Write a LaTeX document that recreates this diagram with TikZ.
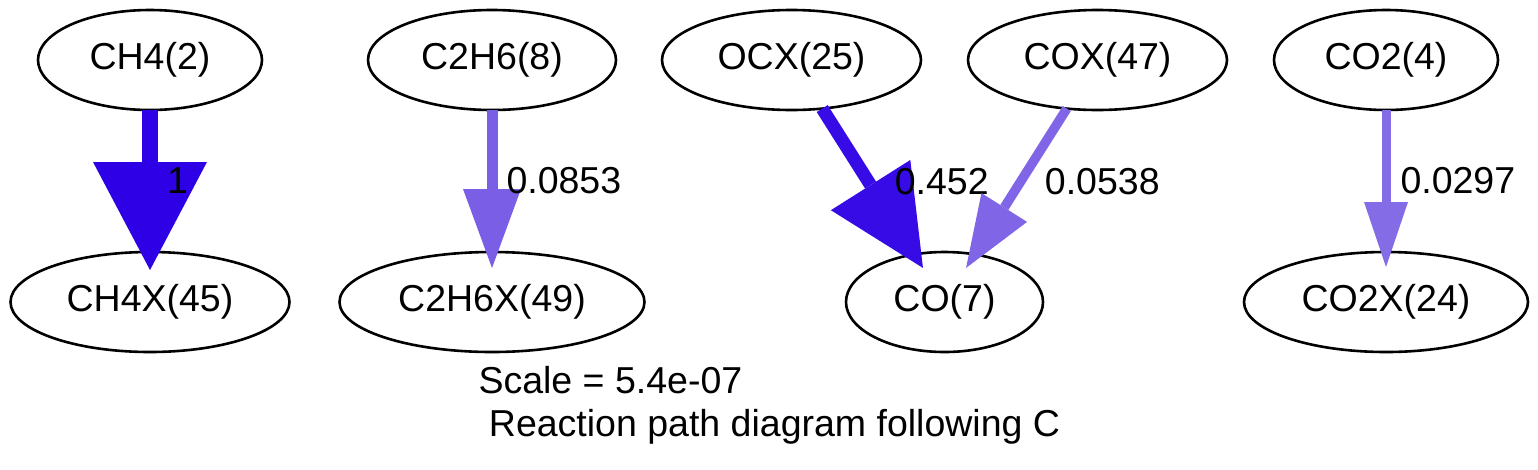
\documentclass[tikz,border=0pt]{standalone}
\usepackage{fontspec}
\setmainfont{Liberation Sans}
\usetikzlibrary{arrows.meta}
\usetikzlibrary{shapes.geometric}

\definecolor{fluxfull}{HTML}{2E00E6}
\definecolor{fluxhalf}{HTML}{370BE6}
\definecolor{fluxlow}{HTML}{7A5FE6}
\definecolor{fluxlower}{HTML}{8066E6}
\definecolor{fluxlowest}{HTML}{846CE6}

\tikzset{
  every node/.style={font=\fontsize{37.5pt}{43pt}\selectfont},
  species/.style={ % Sets the properties for each species
    ellipse, draw, line width=2.6pt,
    inner sep=0pt, outer sep=0pt,
    minimum height=100pt},
  every edge/.style={ % Sets the properties for each flux arrow
    draw,
    shorten >=-16pt},
  flux/.style n args={4}{ % colour, width, head length, head width
    color=#1, line width=#2,
    -{Triangle[length=#3, width=#4, line width=0pt]}},
  flux label/.style={anchor=west, inner sep=0pt, text=black}}

\begin{document}
\begin{tikzpicture}[x=1pt, y=-1pt]
  \useasboundingbox (0,0) rectangle (1538,469);

  \node [species, minimum width=224pt] (ch4) at (150,60) {CH4(2)};
  \node [species, minimum width=279pt] (ch4x) at (150,302) {CH4X(45)};
  \node [species, minimum width=248pt] (c2h6) at (492,60) {C2H6(8)};
  \node [species, minimum width=305pt] (c2h6x) at (492,302) {C2H6X(49)};
  \node [species, minimum width=259pt] (ocx) at (791.5,60) {OCX(25)};
  \node [species, minimum width=259pt] (cox) at (1097.5,60) {COX(47)};
  \node [species, minimum width=197pt] (co) at (944.5,302) {CO(7)};
  \node [species, minimum width=224pt] (co2) at (1386,60) {CO2(4)};
  \node [species, minimum width=284pt] (co2x) at (1386,302) {CO2X(24)};

  \draw (ch4) edge [flux={fluxfull}{16pt}{108pt}{114pt}, shorten >=-18pt]
    node [flux label, xshift=9pt] {1} (ch4x);

  \draw (c2h6) edge [flux={fluxlow}{11pt}{79pt}{58pt}]
    node [flux label, xshift=9pt] {0.0853} (c2h6x);

  \draw (ocx) edge [flux={fluxhalf}{13pt}{98pt}{94pt}]
    node [flux label, xshift=20pt] {0.452} (co);

  \draw (cox) edge [flux={fluxlower}{9.5pt}{71.5pt}{54pt}]
    node [flux label, xshift=19.5pt] {0.0538} (co);

  \draw (co2) edge [flux={fluxlowest}{9pt}{65pt}{44pt}, shorten >=-15pt]
    node [flux label, xshift=10pt] {0.0297} (co2x);

  \node [anchor=base west, align=left] (caption) at (475,436)
    {Scale = 5.4e-07\\\hspace*{.278em}Reaction path diagram following C};
\end{tikzpicture}
\end{document}
